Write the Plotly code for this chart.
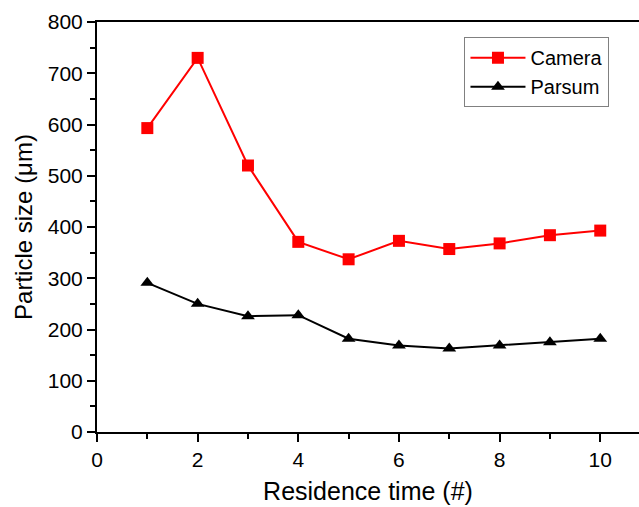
import plotly.graph_objects as go

residence = [1, 2, 3, 4, 5, 6, 7, 8, 9, 10]
camera = [593, 730, 520, 371, 337, 373, 357, 368, 384, 393]
parsum = [291, 250, 226, 228, 182, 169, 163, 169, 175, 182]

fig = go.Figure()
fig.add_trace(go.Scatter(x=residence, y=camera, name="Camera", mode="lines+markers",
                         line=dict(color="#ff0000", width=2),
                         marker=dict(symbol="square", size=12, color="#ff0000")))
fig.add_trace(go.Scatter(x=residence, y=parsum, name="Parsum", mode="lines+markers",
                         line=dict(color="#000000", width=2),
                         marker=dict(symbol="triangle-up", size=12, color="#000000")))

font = "Liberation Sans, Arial, sans-serif"
fig.update_layout(
    width=639, height=507,
    margin=dict(l=97, r=0, t=22, b=75),
    plot_bgcolor="white", paper_bgcolor="white",
    font=dict(family=font, color="black", size=20),
    showlegend=True,
    legend=dict(x=0.678, y=0.963, xanchor="left", yanchor="top",
                bordercolor="#808080", borderwidth=1, bgcolor="white",
                font=dict(size=20), itemwidth=55, tracegroupgap=0),
    xaxis=dict(range=[0, 10.77], tickvals=[0, 2, 4, 6, 8, 10],
               showline=True, linecolor="black", linewidth=2, mirror=True,
               ticks="outside", ticklen=8, tickwidth=2, tickcolor="black",
               minor=dict(ticks="outside", ticklen=5, tickwidth=2, tickcolor="black", dtick=1),
               showgrid=False, zeroline=False,
               tickfont=dict(size=21),
               title=dict(text="Residence time (#)", font=dict(size=25), standoff=12)),
    yaxis=dict(range=[0, 800], dtick=100,
               showline=True, linecolor="black", linewidth=2,
               ticks="outside", ticklen=8, tickwidth=2, tickcolor="black",
               minor=dict(ticks="outside", ticklen=5, tickwidth=2, tickcolor="black", dtick=50),
               showgrid=False, zeroline=False,
               tickfont=dict(size=21),
               title=dict(text="Particle size (μm)", font=dict(size=24), standoff=8)),
)

fig.write_html("out.html")
